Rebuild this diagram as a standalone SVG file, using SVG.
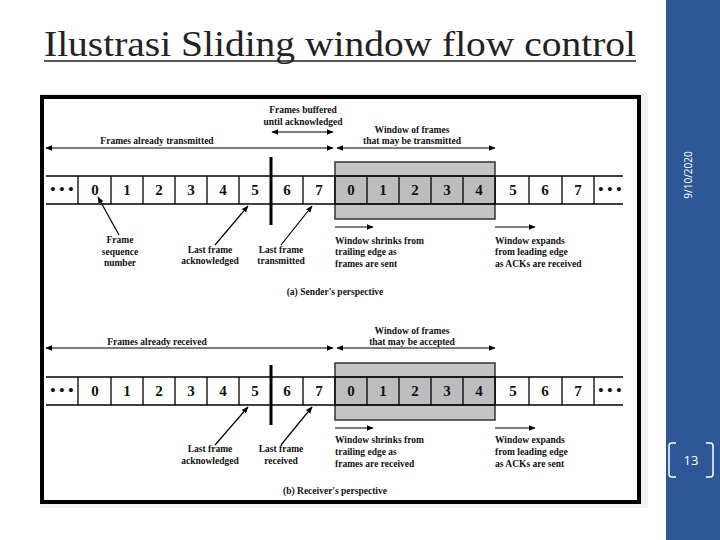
<svg xmlns="http://www.w3.org/2000/svg" width="720" height="540" viewBox="0 0 720 540">
<defs>
<marker id="ah" viewBox="0 0 10 10" refX="9" refY="5" markerWidth="7" markerHeight="7" orient="auto-start-reverse" markerUnits="userSpaceOnUse"><path d="M0,1 L10,5 L0,9 z" fill="#000"/></marker>
<style>
.t{font-family:"Liberation Serif",serif;font-weight:bold;font-size:9.5px;fill:#111}
.n{font-family:"Liberation Serif",serif;font-weight:bold;font-size:15px;fill:#111;text-anchor:middle}
.c{text-anchor:middle}
.ln{stroke:#000;stroke-width:1.5;fill:none}
.ar{stroke:#000;stroke-width:1.2;fill:none;marker-end:url(#ah)}
.da{stroke:#000;stroke-width:1.2;fill:none;marker-end:url(#ah);marker-start:url(#ah)}
.win{fill:#c4c4c4;stroke:#333;stroke-width:1.5}
</style>
</defs>
<rect width="720" height="540" fill="#fff"/>
<rect x="666" y="0" width="54" height="540" fill="#2E5797"/>
<text transform="translate(692,175) rotate(-90)" text-anchor="middle" font-family="Open Sans, sans-serif" font-size="10" fill="#fff">9/10/2020</text>
<g id="pagenum" fill="none" stroke="#fff" stroke-width="1.5">
<path d="M676,443 h-4 q-3,0 -3,3 v28 q0,3 3,3 h4"/>
<path d="M706,443 h4 q3,0 3,3 v28 q0,3 -3,3 h-4"/>
</g>
<text x="691" y="465" text-anchor="middle" font-family="Open Sans, sans-serif" font-size="13" fill="#fff">13</text>
<text x="44" y="56" font-family="Liberation Serif, serif" font-size="35" fill="#222" textLength="592" lengthAdjust="spacingAndGlyphs">Ilustrasi Sliding window flow control</text>
<line x1="44" y1="61" x2="636" y2="61" stroke="#222" stroke-width="1.5"/>
<rect x="40" y="93" width="608" height="415" fill="#f2f2f2"/>
<rect x="42" y="97" width="597" height="405" fill="#fff" stroke="#000" stroke-width="4"/>

<g id="sender">
<rect class="win" x="335" y="162" width="160" height="57"/>
<rect x="335" y="176" width="160" height="28" fill="#bdbdbd" stroke="#333" stroke-width="1.2"/>
<line class="ln" x1="46" y1="176" x2="623" y2="176"/>
<line class="ln" x1="46" y1="204" x2="623" y2="204"/>
<g stroke="#000" stroke-width="1.3">
<line x1="78" y1="176" x2="78" y2="204"/><line x1="111" y1="176" x2="111" y2="204"/><line x1="143" y1="176" x2="143" y2="204"/><line x1="175" y1="176" x2="175" y2="204"/><line x1="207" y1="176" x2="207" y2="204"/><line x1="239" y1="176" x2="239" y2="204"/><line x1="303" y1="176" x2="303" y2="204"/><line x1="335" y1="176" x2="335" y2="204"/><line x1="367" y1="176" x2="367" y2="204"/><line x1="399" y1="176" x2="399" y2="204"/><line x1="431" y1="176" x2="431" y2="204"/><line x1="463" y1="176" x2="463" y2="204"/><line x1="495" y1="176" x2="495" y2="204"/><line x1="529" y1="176" x2="529" y2="204"/><line x1="562" y1="176" x2="562" y2="204"/><line x1="594" y1="176" x2="594" y2="204"/>
</g>
<line x1="271" y1="157" x2="271" y2="225" stroke="#000" stroke-width="3"/>
<text class="n" x="62" y="194">• • •</text><text class="n" x="95" y="195">0</text><text class="n" x="127" y="195">1</text><text class="n" x="159" y="195">2</text><text class="n" x="191" y="195">3</text><text class="n" x="223" y="195">4</text><text class="n" x="255" y="195">5</text><text class="n" x="287" y="195">6</text><text class="n" x="319" y="195">7</text><text class="n" x="351" y="195">0</text><text class="n" x="383" y="195">1</text><text class="n" x="415" y="195">2</text><text class="n" x="447" y="195">3</text><text class="n" x="479" y="195">4</text><text class="n" x="513" y="195">5</text><text class="n" x="545" y="195">6</text><text class="n" x="578" y="195">7</text><text class="n" x="610" y="194">• • •</text>
<text class="t c" x="157" y="144">Frames already transmitted</text>
<text class="t c" x="303" y="113">Frames buffered</text><text class="t c" x="303" y="125">until acknowledged</text>
<text class="t c" x="412" y="133">Window of frames</text><text class="t c" x="412" y="144">that may be transmitted</text>
<text class="t c" x="120" y="243">Frame</text><text class="t c" x="120" y="255">sequence</text><text class="t c" x="120" y="266">number</text>
<text class="t c" x="210" y="253">Last frame</text><text class="t c" x="210" y="264">acknowledged</text>
<text class="t c" x="281" y="253">Last frame</text><text class="t c" x="281" y="264">transmitted</text>
<text class="t" x="335" y="244">Window shrinks from</text><text class="t" x="335" y="255">trailing edge as</text><text class="t" x="335" y="267">frames are sent</text>
<text class="t" x="495" y="244">Window expands</text><text class="t" x="495" y="255">from leading edge</text><text class="t" x="495" y="267">as ACKs are received</text>
<text class="t c" x="335" y="295">(a) Sender's perspective</text>
</g>

<g id="receiver">
<rect class="win" x="335" y="363" width="160" height="57"/>
<rect x="335" y="377" width="160" height="28" fill="#bdbdbd" stroke="#333" stroke-width="1.2"/>
<line class="ln" x1="46" y1="377" x2="623" y2="377"/>
<line class="ln" x1="46" y1="405" x2="623" y2="405"/>
<g stroke="#000" stroke-width="1.3">
<line x1="78" y1="377" x2="78" y2="405"/><line x1="111" y1="377" x2="111" y2="405"/><line x1="143" y1="377" x2="143" y2="405"/><line x1="175" y1="377" x2="175" y2="405"/><line x1="207" y1="377" x2="207" y2="405"/><line x1="239" y1="377" x2="239" y2="405"/><line x1="303" y1="377" x2="303" y2="405"/><line x1="335" y1="377" x2="335" y2="405"/><line x1="367" y1="377" x2="367" y2="405"/><line x1="399" y1="377" x2="399" y2="405"/><line x1="431" y1="377" x2="431" y2="405"/><line x1="463" y1="377" x2="463" y2="405"/><line x1="495" y1="377" x2="495" y2="405"/><line x1="529" y1="377" x2="529" y2="405"/><line x1="562" y1="377" x2="562" y2="405"/><line x1="594" y1="377" x2="594" y2="405"/>
</g>
<line x1="271" y1="365" x2="271" y2="425" stroke="#000" stroke-width="3"/>
<text class="n" x="62" y="395">• • •</text><text class="n" x="95" y="396">0</text><text class="n" x="127" y="396">1</text><text class="n" x="159" y="396">2</text><text class="n" x="191" y="396">3</text><text class="n" x="223" y="396">4</text><text class="n" x="255" y="396">5</text><text class="n" x="287" y="396">6</text><text class="n" x="319" y="396">7</text><text class="n" x="351" y="396">0</text><text class="n" x="383" y="396">1</text><text class="n" x="415" y="396">2</text><text class="n" x="447" y="396">3</text><text class="n" x="479" y="396">4</text><text class="n" x="513" y="396">5</text><text class="n" x="545" y="396">6</text><text class="n" x="578" y="396">7</text><text class="n" x="610" y="395">• • •</text>
<text class="t c" x="157" y="345">Frames already received</text>
<text class="t c" x="412" y="334">Window of frames</text><text class="t c" x="412" y="345">that may be accepted</text>
<text class="t c" x="210" y="452">Last frame</text><text class="t c" x="210" y="464">acknowledged</text>
<text class="t c" x="281" y="452">Last frame</text><text class="t c" x="281" y="464">received</text>
<text class="t" x="335" y="443">Window shrinks from</text><text class="t" x="335" y="455">trailing edge as</text><text class="t" x="335" y="467">frames are received</text>
<text class="t" x="495" y="443">Window expands</text><text class="t" x="495" y="455">from leading edge</text><text class="t" x="495" y="467">as ACKs are sent</text>
<text class="t c" x="335" y="494">(b) Receiver's perspective</text>
</g>

<g id="connectors">
<line class="da" x1="46" y1="148" x2="333" y2="148"/>
<line class="da" x1="337" y1="148" x2="495" y2="148"/>
<line class="da" x1="272" y1="132" x2="333" y2="132"/>
<line class="ar" x1="119" y1="235" x2="98" y2="197"/>
<line class="ar" x1="215" y1="245" x2="248" y2="206"/>
<line class="ar" x1="281" y1="245" x2="312" y2="206"/>
<line class="ar" x1="335" y1="227" x2="373" y2="227"/>
<line class="ar" x1="495" y1="227" x2="535" y2="227"/>
<line class="da" x1="46" y1="348" x2="333" y2="348"/>
<line class="da" x1="337" y1="348" x2="495" y2="348"/>
<line class="ar" x1="215" y1="445" x2="248" y2="407"/>
<line class="ar" x1="281" y1="445" x2="312" y2="407"/>
<line class="ar" x1="335" y1="428" x2="373" y2="428"/>
<line class="ar" x1="495" y1="428" x2="535" y2="428"/>
</g>
</svg>
